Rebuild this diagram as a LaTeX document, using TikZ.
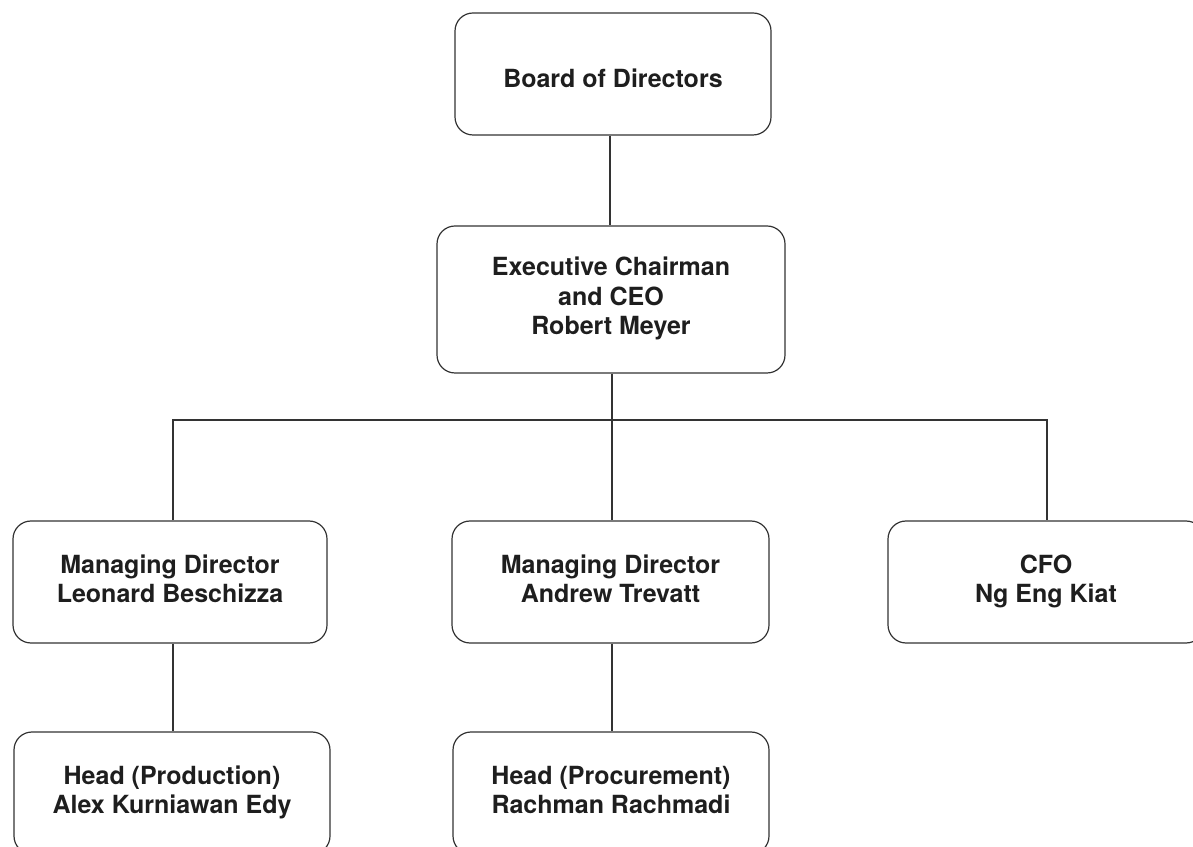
\documentclass[tikz,border=0pt]{standalone}
\usepackage{fontspec}
\setmainfont{TeX Gyre Heros}
\definecolor{linec}{HTML}{333333}
\definecolor{textc}{HTML}{1E1E1E}
\begin{document}
\begin{tikzpicture}[x=1pt,y=1pt,
  orgbox/.style={draw=linec, line width=1.2pt, rounded corners=18pt, inner sep=0pt,
    align=center, text=textc, font=\fontsize{25}{29.5}\selectfont\bfseries},
  conn/.style={draw=linec, line width=1.2pt}]
\useasboundingbox (0,0) rectangle (1193,846);
\clip (0,0) rectangle (1193,846);
\node[orgbox, minimum width=316pt, minimum height=122pt] (board) at (613,772) {\rule{0pt}{36.6pt}Board of Directors\strut};
\node[orgbox, minimum width=348pt, minimum height=147pt] (ceo) at (611,546.5) {\strut Executive Chairman\\and CEO\\Robert Meyer\strut};
\node[orgbox, minimum width=314pt, minimum height=122pt] (md1) at (170,264) {\strut Managing Director\\Leonard Beschizza\strut};
\node[orgbox, minimum width=317pt, minimum height=122pt] (md2) at (610.5,264) {\strut Managing Director\\Andrew Trevatt\strut};
\node[orgbox, minimum width=316pt, minimum height=122pt] (cfo) at (1046,264) {\strut CFO\\Ng Eng Kiat\strut};
\node[orgbox, minimum width=316pt, minimum height=122pt] (h1) at (172,53) {\strut Head (Production)\\Alex Kurniawan Edy\strut};
\node[orgbox, minimum width=316pt, minimum height=122pt] (h2) at (611,53) {\strut Head (Procurement)\\Rachman Rachmadi\strut};
\coordinate (bus) at (612,426);
\draw[conn] ([xshift=-3pt]board.south) -- ([xshift=-3pt]board.south |- ceo.north);
\draw[conn] ([xshift=1pt]ceo.south) -- (bus);
\draw[conn] ([xshift=3pt]md1.north) |- ([xshift=1pt]cfo.north |- bus) -- ([xshift=1pt]cfo.north);
\draw[conn] (bus) -- (bus |- md2.north);
\draw[conn] ([xshift=3pt]md1.south) -- ([xshift=3pt]md1.south |- h1.north);
\draw[conn] ([xshift=1.5pt]md2.south) -- ([xshift=1.5pt]md2.south |- h2.north);
\end{tikzpicture}
\end{document}
